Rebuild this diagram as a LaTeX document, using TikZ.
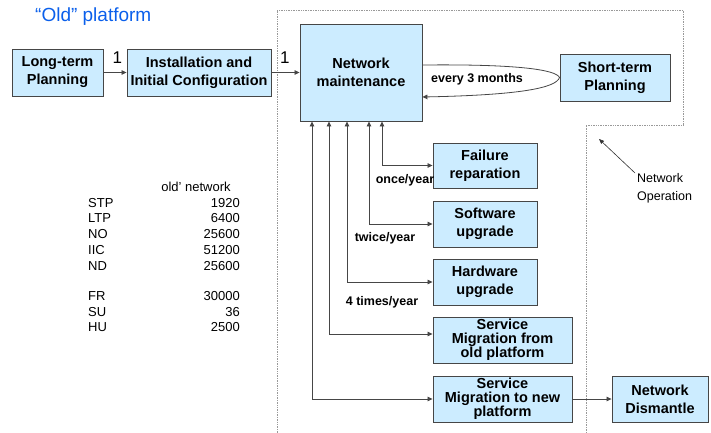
\documentclass[tikz,border=0pt]{standalone}
\usepackage{fontspec}
\setmainfont{Liberation Sans}
\usepackage{tikz}
\usetikzlibrary{arrows.meta, positioning}
\definecolor{boxblue}{RGB}{204,236,255}
\definecolor{titleblue}{RGB}{10,95,235}
\definecolor{linegray}{RGB}{70,70,70}
\tikzset{
    block/.style={rectangle, draw=linegray, line width=0.9pt, fill=boxblue, align=center, inner sep=0pt, font=\fontsize{14.5}{18}\selectfont\bfseries},
    tight/.style={font=\fontsize{14.5}{14}\selectfont\bfseries},
    arrow/.style={-{Triangle[length=5pt, width=4.5pt]}, draw=linegray, line width=0.8pt},
    biarrow/.style={{Triangle[length=5pt, width=4.5pt]}-{Triangle[length=5pt, width=4.5pt]}, draw=linegray, line width=0.8pt},
    freq/.style={font=\fontsize{12.5}{14}\selectfont\bfseries, inner sep=0pt},
    count/.style={font=\fontsize{17}{19}\selectfont, inner sep=0pt},
    tab/.style={font=\fontsize{13}{15}\selectfont, inner sep=0pt},
    region/.style={draw=gray!80, densely dotted, line width=0.7pt}
}
\begin{document}
\begin{tikzpicture}[x=1pt, y=-1pt]
        \useasboundingbox (0,0) rectangle (711,433);

        \node[anchor=west, inner sep=0pt, text=titleblue, font=\fontsize{19}{21}\selectfont] (Title) at (35,17) {``Old'' platform};

        % operation area
        \draw[region] (277,433) -- (277,10) -- (683,10) -- (683,125) -- (586,125) -- (586,433);

        \node[block, minimum width=91pt, minimum height=47pt] (LongTerm) at (57.5,72.5) {Long-term\\Planning};
        \node[block, minimum width=144pt, minimum height=47pt] (Install) at (199,72.5) {Installation and\\Initial Configuration};
        \node[block, minimum width=122pt, minimum height=97pt] (Maint) at (361,72.5) {Network\\maintenance};
        \node[block, minimum width=110pt, minimum height=47pt] (ShortTerm) at (615,77.5) {Short-term\\Planning};

        \node[block, minimum width=104pt, minimum height=45pt] (Failure) at (485,165.5) {Failure\\reparation};
        \node[block, minimum width=104pt, minimum height=46pt] (Software) at (485,224) {Software\\upgrade};
        \node[block, minimum width=104pt, minimum height=46pt] (Hardware) at (485,282) {Hardware\\upgrade};
        \node[block, tight, minimum width=139pt, minimum height=46pt] (MigOld) at (502.5,340) {Service\\Migration from\\old platform};
        \node[block, tight, minimum width=139pt, minimum height=46pt] (MigNew) at (502.5,399) {Service\\Migration to new\\platform};
        \node[block, minimum width=96pt, minimum height=46pt] (Dismantle) at (660,399) {Network\\Dismantle};

        \draw[arrow] (LongTerm) -- node[count, pos=0.6, above=9pt] (OneA) {1} (Install);
        \draw[arrow] (Install) -- node[count, pos=0.48, above=9pt] (OneB) {1} (Maint);

        % short-term planning loop
        \draw[arrow] ([yshift=7.5pt]Maint.east) .. controls (520,64) and (556,70) .. (ShortTerm.west)
            .. controls (556,88) and (520,95) .. ([yshift=-24.5pt]Maint.east);
        \node[freq] (Quarter) at (477,79) {every 3 months};

        \draw[biarrow] ([xshift=21pt]Maint.south) |- (Failure.west);
        \draw[biarrow] ([xshift=8pt]Maint.south) |- (Software.west);
        \draw[biarrow] ([xshift=-14pt]Maint.south) |- (Hardware.west);
        \draw[biarrow] ([xshift=-32pt]Maint.south) |- ([yshift=6pt]MigOld.west);
        \draw[biarrow] ([xshift=-49pt]Maint.south) |- (MigNew.west);
        \draw[arrow] (MigNew) -- (Dismantle);

        \node[freq] (Once) at (405,180) {once/year};
        \node[freq] (Twice) at (385,238) {twice/year};
        \node[freq] (Four) at (382,302) {4 times/year};

        \node[tab, anchor=north west, align=left, font=\fontsize{12.5}{18}\selectfont] (NetOp) at (637,173) {Network\\Operation};
        \coordinate (OpTip) at (599,139);
        \draw[-{Triangle[length=5pt, width=4pt]}, draw=black!80, line width=0.6pt] ([xshift=-2pt]NetOp.north west) -- (OpTip);

        % counts of the old network
        \node[tab] (Head) at (196,187) {old' network};
        \foreach \name/\val/\y in {STP/1920/203, LTP/6400/218, NO/25600/234, IIC/51200/250, ND/25600/266, FR/30000/296, SU/36/312, HU/2500/327} {
            \node[tab, anchor=west] (lab-\name) at (88,\y) {\name};
            \node[tab, anchor=east] (val-\name) at (240,\y) {\val};
        }
    \end{tikzpicture}
\end{document}
